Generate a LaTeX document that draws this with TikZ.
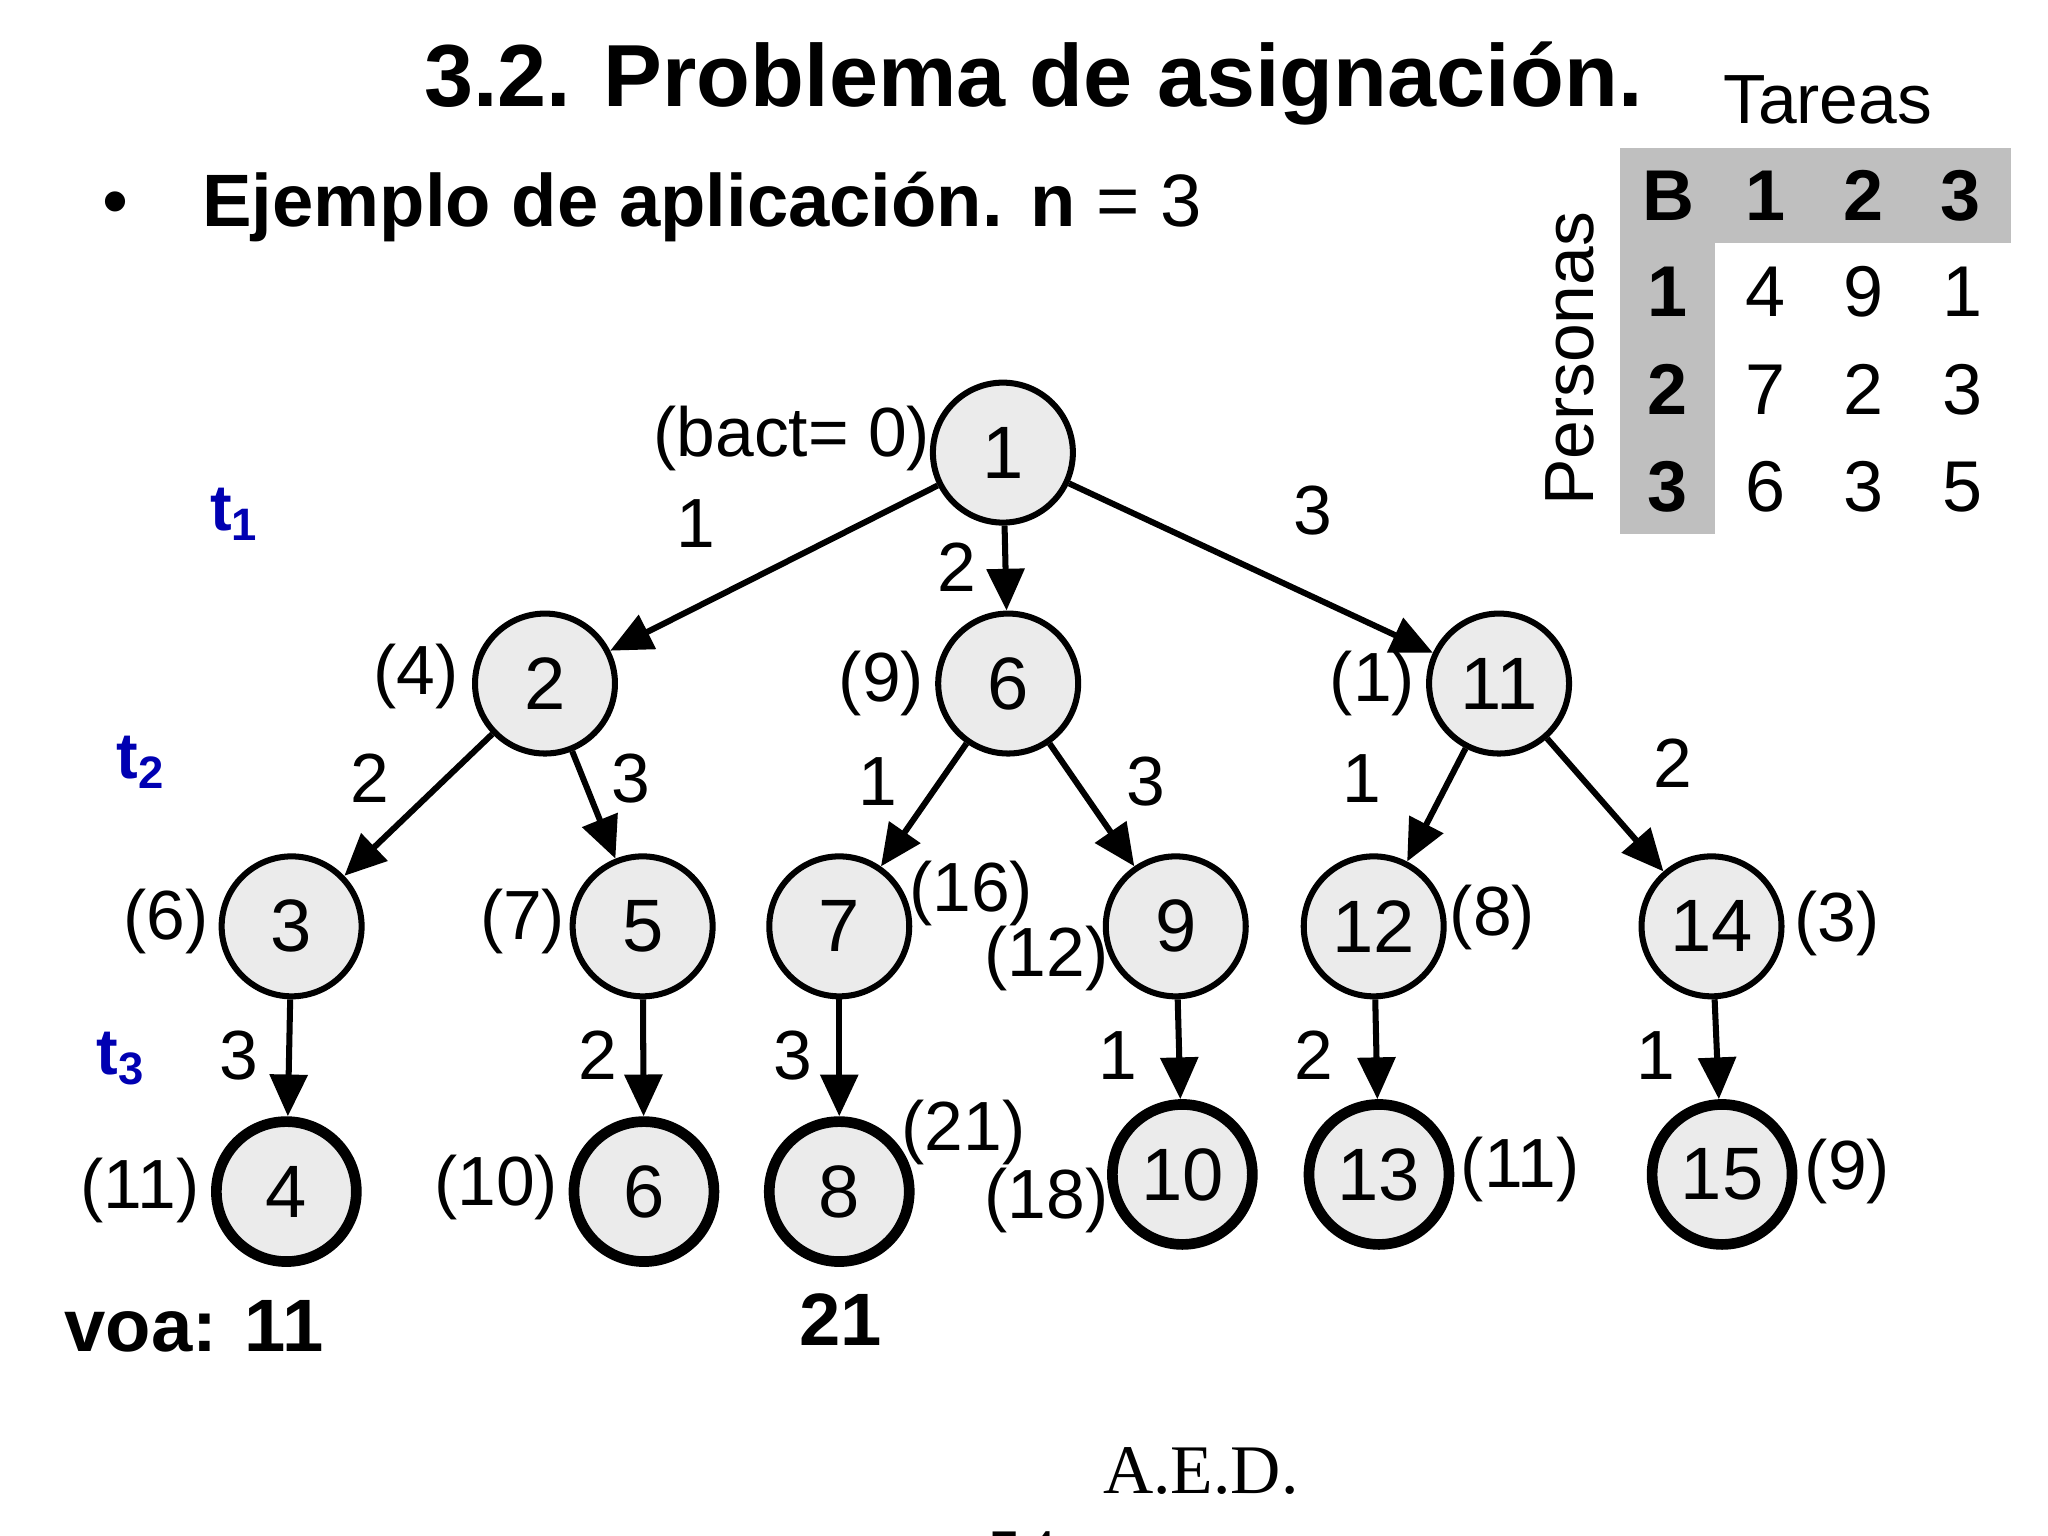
\documentclass[tikz,border=0pt]{standalone}
\usepackage{fontspec}
\setmainfont{Liberation Sans}
\newfontfamily\serifaed{Liberation Serif}
\usetikzlibrary{arrows.meta}
\tikzset{
  st/.style={circle, draw, line width=1.3pt, fill=black!8, minimum size=1.06cm, inner sep=0pt, font=\fontsize{16}{18}\selectfont},
  hoja/.style={st, line width=2.3pt},
  rama/.style={line width=1.3pt, -{Triangle[length=9pt,width=8pt]}},
  lbl/.style={font=\fontsize{15}{17}\selectfont},
  nivel/.style={text=blue!70!black, font=\bfseries\fontsize{14}{16}\selectfont},
  celda/.style={font=\fontsize{15.5}{18}\selectfont},
}
\begin{document}
\begin{tikzpicture}[x=0.01cm, y=-0.01cm]
\useasboundingbox (0,0) rectangle (1552,1164);
% titulo
\node[font=\bfseries\fontsize{19}{22}\selectfont] (titulo) at (783,63) {3.2. Problema de asignación.};
\node[anchor=west, font=\fontsize{16}{19}\selectfont] (bullet) at (65,157) {\textbullet\quad\textbf{Ejemplo de aplicación. n} = 3};

% tabla de costes
\fill[black!25] (1228,112) rectangle (1524,184);
\fill[black!25] (1228,112) rectangle (1300,405);
\node[lbl] (tareas) at (1385,76) {Tareas};
\node[lbl, rotate=90] (personas) at (1190,272) {Personas};
\foreach \t [count=\i] in {B,1,2,3}
  \node[celda, font=\bfseries\fontsize{15.5}{18}\selectfont] (h\i) at ({1264+74*(\i-1)},148) {\t};
\foreach \t [count=\j] in {1,2,3}
  \node[celda, font=\bfseries\fontsize{15.5}{18}\selectfont] (p\j) at (1264,{221+74*(\j-1)}) {\t};
\foreach \a/\b/\c [count=\j] in {4/9/1, 7/2/3, 6/3/5} {
  \node[celda] at (1338,{221+74*(\j-1)}) {\a};
  \node[celda] at (1412,{221+74*(\j-1)}) {\b};
  \node[celda] at (1487,{221+74*(\j-1)}) {\c};
}

% niveles
\node[nivel] (t1) at (178,390) {t\textsubscript{1}};
\node[nivel] (t2) at (107,578) {t\textsubscript{2}};
\node[nivel] (t3) at (92,802) {t\textsubscript{3}};

% arbol
\node[st] (n1) at (760,343) {1};
\node[st] (n2) at (413,518) {2};
\node[st] (n6) at (764,518) {6};
\node[st] (n11) at (1136,518) {11};
\node[st] (n3) at (221,702) {3};
\node[st] (n5) at (487,702) {5};
\node[st] (n7) at (636,702) {7};
\node[st] (n9) at (891,702) {9};
\node[st] (n12) at (1041,702) {12};
\node[st] (n14) at (1297,702) {14};
\node[hoja] (n4) at (217,903) {4};
\node[hoja] (n6b) at (488,903) {6};
\node[hoja] (n8) at (636,903) {8};
\node[hoja] (n10) at (896,890) {10};
\node[hoja] (n13) at (1045,890) {13};
\node[hoja] (n15) at (1305,890) {15};

\draw[rama] (n1) -- (n2);
\draw[rama] (n1) -- (n6);
\draw[rama] (n1) -- (n11);
\draw[rama] (n2) -- (n3);
\draw[rama] (n2) -- (n5);
\draw[rama] (n6) -- (n7);
\draw[rama] (n6) -- (n9);
\draw[rama] (n11) -- (n12);
\draw[rama] (n11) -- (n14);
\draw[rama] (n3) -- (n4);
\draw[rama] (n5) -- (n6b);
\draw[rama] (n7) -- (n8);
\draw[rama] (n9) -- (n10);
\draw[rama] (n12) -- (n13);
\draw[rama] (n14) -- (n15);

% etiquetas de las ramas
\foreach \t/\x/\y in {1/527/397, 2/725/430, 3/995/387, 2/280/590, 3/478/590, 1/665/592, 3/868/592,
  1/1032/590, 2/1268/578, 3/181/800, 2/453/800, 3/601/800, 1/847/800, 2/996/800, 1/1255/800}
  \node[lbl] at (\x,\y) {\t};

% cotas
\foreach \t/\x/\y in {(bact= 0)/600/332, (4)/315/513, (9)/668/518, (1)/1040/518, (6)/126/698,
  (7)/396/698, (16)/736/677, (12)/793/726, (8)/1131/695, (3)/1392/700, (11)/106/902,
  (10)/376/900, (21)/730/858, (18)/793/910, (11)/1152/886, (9)/1400/888}
  \node[lbl] at (\x,\y) {\t};

\node[font=\bfseries\fontsize{16}{18}\selectfont] (voa) at (147,1005) {voa: 11};
\node[font=\bfseries\fontsize{16}{18}\selectfont] (mejor) at (637,1000) {21};
\node[font=\serifaed\fontsize{15}{17}\selectfont] (aed) at (910,1115) {A.E.D.};
\node[font=\serifaed\fontsize{15}{17}\selectfont] (pag) at (775,1178) {54};
\end{tikzpicture}
\end{document}
